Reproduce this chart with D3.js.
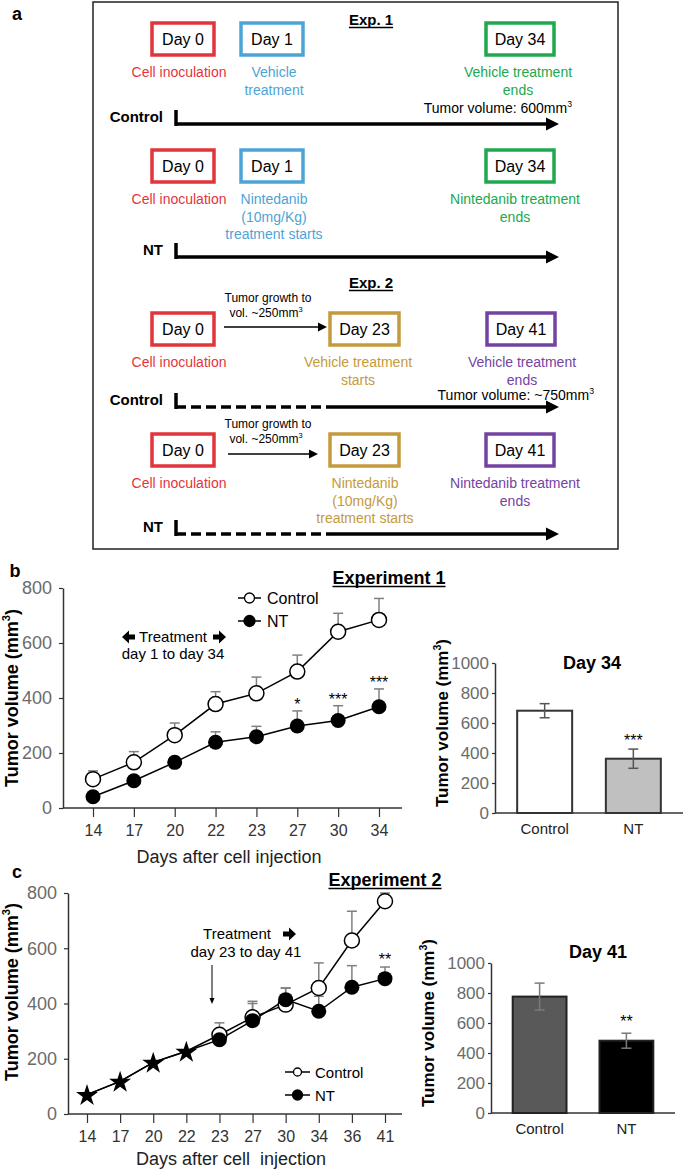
<!DOCTYPE html>
<html><head><meta charset="utf-8">
<script src="https://cdn.jsdelivr.net/npm/d3@7"></script>
<style>body{margin:0;background:#fff} svg{display:block} text{font-family:"Liberation Sans",Arial,sans-serif}</style>
</head><body><script>
// ---------- DATA ----------
const daysB = ["14","17","20","22","23","27","30","34"];
const controlB = [105,166,265,378,417,496,641,684];
const controlErrB = [30,39,44,45,59,60,67,78];
const ntB = [41,99,166,239,259,298,318,368];
const ntErrB = [8,10,18,38,38,55,54,65];
const sigB = ["","","","","","*","***","***"];

const daysC = ["14","17","20","22","23","27","30","34","36","41"];
const pretreatC = [70,118,187,227];
const controlC = [287,350,396,456,628,770];
const controlErrC = [43,58,60,91,106,30];
const ntC = [269,338,414,372,459,490];
const ntErrC = [8,62,42,54,78,42];
const sigC = ["","","","","","**"];

const barGroups = ["Control","NT"];
const barB = [682,362];
const barErrB = [47,64];
const barSigB = ["","***"];
const barC = [776,482];
const barErrC = [90,50];
const barSigC = ["","**"];
const yTicksLine = [0,200,400,600,800];
const yTicksBar = [0,200,400,600,800,1000];

// Panel a content
const aColors = {red:"#e2353b", blue:"#4ca4d6", green:"#20a84f", gold:"#c49a3c", purple:"#7443a2"};
const aRows = [
  {top:23, boxes:[
    {day:"Day 0", c:"red", x:152, w:62, lines:["Cell inoculation"], lx:179},
    {day:"Day 1", c:"blue", x:241, w:62, lines:["Vehicle","treatment"], lx:274},
    {day:"Day 34", c:"green", x:486, w:68, lines:["Vehicle treatment","ends"], lx:518}]},
  {top:150, boxes:[
    {day:"Day 0", c:"red", x:152, w:62, lines:["Cell inoculation"], lx:179},
    {day:"Day 1", c:"blue", x:241, w:62, lines:["Nintedanib","(10mg/Kg)","treatment starts"], lx:274},
    {day:"Day 34", c:"green", x:486, w:68, lines:["Nintedanib treatment","ends"], lx:515}]},
  {top:313, boxes:[
    {day:"Day 0", c:"red", x:152, w:62, lines:["Cell inoculation"], lx:179},
    {day:"Day 23", c:"gold", x:330, w:69, lines:["Vehicle treatment","starts"], lx:358},
    {day:"Day 41", c:"purple", x:487, w:68, lines:["Vehicle treatment","ends"], lx:522}]},
  {top:434, boxes:[
    {day:"Day 0", c:"red", x:152, w:62, lines:["Cell inoculation"], lx:179},
    {day:"Day 23", c:"gold", x:330, w:69, lines:["Nintedanib","(10mg/Kg)","treatment starts"], lx:365},
    {day:"Day 41", c:"purple", x:486, w:68, lines:["Nintedanib treatment","ends"], lx:515}]}
];
const aTimelines = [
  {y:124, name:"Control", dashTo:null},
  {y:257, name:"NT", dashTo:null},
  {y:407, name:"Control", dashTo:336},
  {y:534, name:"NT", dashTo:336}
];

const svg = d3.select("body").append("svg").attr("width",685).attr("height",1169);

function txt(x,y,s,opt={}){
  const t = svg.append("text").attr("x",x).attr("y",y).text(s)
    .attr("font-size",opt.size||14).attr("fill",opt.fill||"#000")
    .attr("text-anchor",opt.anchor||"middle");
  if(opt.bold) t.attr("font-weight","bold");
  return t;
}
function supText(x,y,pre,sup,post,opt={}){
  const t = svg.append("text").attr("x",x).attr("y",y)
    .attr("font-size",opt.size||14).attr("fill",opt.fill||"#000")
    .attr("text-anchor",opt.anchor||"middle");
  if(opt.bold) t.attr("font-weight","bold");
  if(opt.transform) t.attr("transform",opt.transform);
  t.append("tspan").text(pre);
  t.append("tspan").text(sup).attr("font-size",(opt.size||14)*0.62).attr("dy",-(opt.size||14)*0.42);
  if(post) t.append("tspan").text(post).attr("dy",(opt.size||14)*0.42);
  return t;
}
function underlined(x,y,s,size){
  const t = txt(x,y,s,{size:size,bold:true});
  const bb = t.node().getBBox();
  svg.append("line").attr("x1",bb.x).attr("x2",bb.x+bb.width).attr("y1",y+2.5).attr("y2",y+2.5)
    .attr("stroke","#000").attr("stroke-width",1.5);
}
function thinArrow(x1,x2,y){
  svg.append("line").attr("x1",x1).attr("x2",x2-6).attr("y1",y).attr("y2",y).attr("stroke","#000").attr("stroke-width",1.3);
  svg.append("path").attr("d",`M${x2-9},${y-4.5}L${x2},${y}L${x2-9},${y+4.5}Z`).attr("fill","#000");
}
function blockArrow(cx,cy,dir){
  const p = [[-6,-2.5],[0,-2.5],[0,-6.5],[7,0],[0,6.5],[0,2.5],[-6,2.5]];
  svg.append("path").attr("d","M"+p.map(q=>[cx+dir*q[0],cy+q[1]].join(",")).join("L")+"Z").attr("fill","#000");
}

// ---------- PANEL A ----------
txt(17,20,"a",{size:18,bold:true});
svg.append("rect").attr("x",93).attr("y",2).attr("width",525).attr("height",547)
  .attr("fill","none").attr("stroke","#222").attr("stroke-width",1.5);
underlined(371,25,"Exp. 1",15);
underlined(371,288,"Exp. 2",15);

aRows.forEach(r=>{
  r.boxes.forEach(b=>{
    svg.append("rect").attr("x",b.x).attr("y",r.top).attr("width",b.w).attr("height",32)
      .attr("fill","#fff").attr("stroke",aColors[b.c]).attr("stroke-width",3.5);
    txt(b.x+b.w/2, r.top+22, b.day, {size:16});
    b.lines.forEach((l,i)=>txt(b.lx, r.top+54+i*17.5, l, {size:14, fill:aColors[b.c]}));
  });
});
aTimelines.forEach(t=>{
  txt(163,t.y-2,t.name,{size:15,bold:true,anchor:"end"});
  svg.append("line").attr("x1",176).attr("x2",176).attr("y1",t.y-14).attr("y2",t.y+2).attr("stroke","#000").attr("stroke-width",3.5);
  const x0 = t.dashTo ? t.dashTo : 176;
  if(t.dashTo){
    svg.append("line").attr("x1",176).attr("x2",t.dashTo).attr("y1",t.y).attr("y2",t.y)
      .attr("stroke","#000").attr("stroke-width",3.5).attr("stroke-dasharray","10,5");
  }
  svg.append("line").attr("x1",x0).attr("x2",548).attr("y1",t.y).attr("y2",t.y).attr("stroke","#000").attr("stroke-width",3.5);
  svg.append("path").attr("d",`M546,${t.y-6.5}L559,${t.y}L546,${t.y+6.5}Z`).attr("fill","#000");
});
supText(572,113,"Tumor volume: 600mm","3",null,{size:14,anchor:"end"});
supText(594,400,"Tumor volume: ~750mm","3",null,{size:14,anchor:"end"});
[[302,327,224,327],[428,454,228,318]].forEach(a=>{
  txt(268,a[0],"Tumor growth to",{size:12});
  supText(266,a[0]+15,"vol. ~250mm","3",null,{size:12});
  thinArrow(a[2],a[3],a[1]);
});

// ---------- helpers for charts ----------
function yAxis(scale,x,ticks,size,tickSize,pad){
  const g = svg.append("g").attr("transform",`translate(${x},0)`)
    .call(d3.axisLeft(scale).tickValues(ticks).tickFormat(d3.format("d")).tickSize(tickSize).tickPadding(pad).tickSizeOuter(0));
  g.select(".domain").attr("stroke","#333").attr("stroke-width",1.5);
  g.selectAll(".tick line").attr("stroke","#333").attr("stroke-width",1.2);
  g.selectAll(".tick text").attr("fill","#6b6b6b").attr("font-size",size).attr("font-family","Liberation Sans, Arial, sans-serif");
  return g;
}
function xAxis(scale,y,x0,x1,size,tickSize,pad,color){
  const g = svg.append("g").attr("transform",`translate(0,${y})`)
    .call(d3.axisBottom(scale).tickSize(tickSize).tickPadding(pad).tickSizeOuter(0));
  g.select(".domain").remove();
  g.append("line").attr("x1",x0).attr("x2",x1).attr("stroke","#333").attr("stroke-width",1.5);
  g.selectAll(".tick line").attr("stroke","#333").attr("stroke-width",1.2);
  g.selectAll(".tick text").attr("fill",color).attr("font-size",size).attr("font-family","Liberation Sans, Arial, sans-serif");
  return g;
}
function errUp(x,y,v,e,w){
  svg.append("line").attr("x1",x).attr("x2",x).attr("y1",y(v)).attr("y2",y(v+e)).attr("stroke","#808080").attr("stroke-width",1.5);
  svg.append("line").attr("x1",x-w/2).attr("x2",x+w/2).attr("y1",y(v+e)).attr("y2",y(v+e)).attr("stroke","#808080").attr("stroke-width",1.5);
}
function errBoth(x,y,v,e,w,col){
  svg.append("line").attr("x1",x).attr("x2",x).attr("y1",y(v-e)).attr("y2",y(v+e)).attr("stroke",col).attr("stroke-width",1.5);
  [v-e,v+e].forEach(q=>svg.append("line").attr("x1",x-w/2).attr("x2",x+w/2).attr("y1",y(q)).attr("y2",y(q)).attr("stroke",col).attr("stroke-width",1.5));
}

// ---------- PANEL B line ----------
txt(15,577,"b",{size:18,bold:true});
const xB = d3.scalePoint().domain(daysB).range([93,379]);
const yB = d3.scaleLinear().domain([0,800]).range([808,588]);
yAxis(yB,63,yTicksLine,18,4,7);
xAxis(xB,808,63,402,16,9,8,"#333");
supText(18,698,"Tumor volume (mm","3",")",{size:18,bold:true,transform:"rotate(-90,18,698)"});
txt(229,863,"Days after cell injection",{size:18,fill:"#222"});
underlined(389,584,"Experiment 1",18);

daysB.forEach((d,i)=>{ errUp(xB(d),yB,controlB[i],controlErrB[i],10); errUp(xB(d),yB,ntB[i],ntErrB[i],10); });
const lineB = d3.line().x(d=>xB(d[0])).y(d=>yB(d[1]));
svg.append("path").attr("d",lineB(daysB.map((d,i)=>[d,controlB[i]]))).attr("fill","none").attr("stroke","#000").attr("stroke-width",1.5);
svg.append("path").attr("d",lineB(daysB.map((d,i)=>[d,ntB[i]]))).attr("fill","none").attr("stroke","#000").attr("stroke-width",1.5);
daysB.forEach((d,i)=>{
  svg.append("circle").attr("cx",xB(d)).attr("cy",yB(controlB[i])).attr("r",7.5).attr("fill","#fff").attr("stroke","#000").attr("stroke-width",1.5);
  svg.append("circle").attr("cx",xB(d)).attr("cy",yB(ntB[i])).attr("r",7.5).attr("fill","#000");
  if(sigB[i]) txt(xB(d),yB(ntB[i]+ntErrB[i])-1,sigB[i],{size:16});
});
[["Control",598,false],["NT",621,true]].forEach(l=>{
  svg.append("line").attr("x1",238).attr("x2",261).attr("y1",l[1]).attr("y2",l[1]).attr("stroke","#000").attr("stroke-width",1.5);
  svg.append("circle").attr("cx",249.5).attr("cy",l[1]).attr("r",l[2]?5.5:5).attr("fill",l[2]?"#000":"#fff").attr("stroke","#000").attr("stroke-width",1.3);
  txt(267,l[1]+6,l[0],{size:16,anchor:"start"});
});
blockArrow(129,637,-1); blockArrow(219,637,1);
txt(173,642,"Treatment",{size:15});
txt(173,659,"day 1 to day 34",{size:15});

// ---------- PANEL B bar ----------
const xBarB = d3.scaleBand().domain(barGroups).range([495,683]).paddingInner(0.38).paddingOuter(0.25);
const yBarB = d3.scaleLinear().domain([0,1000]).range([813,663]);
yAxis(yBarB,495,yTicksBar,17,3,3);
xAxis(xBarB,813,495,683,15,0,10,"#222");
barGroups.forEach((g,i)=>{
  svg.append("rect").attr("x",xBarB(g)).attr("y",yBarB(barB[i])).attr("width",xBarB.bandwidth()).attr("height",yBarB(0)-yBarB(barB[i]))
    .attr("fill",i?"#c0c0c0":"#fff").attr("stroke","#333").attr("stroke-width",2);
  errBoth(xBarB(g)+xBarB.bandwidth()/2,yBarB,barB[i],barErrB[i],10,"#555");
  if(barSigB[i]) txt(xBarB(g)+xBarB.bandwidth()/2,yBarB(barB[i]+barErrB[i])-3,barSigB[i],{size:16});
});
supText(448,723,"Tumor volume (mm","3",")",{size:17,bold:true,transform:"rotate(-90,448,723)"});
txt(592,669,"Day 34",{size:18,bold:true});

// ---------- PANEL C line ----------
txt(17,878,"c",{size:18,bold:true});
const xC = d3.scalePoint().domain(daysC).range([87,385]);
const yC = d3.scaleLinear().domain([0,800]).range([1114,893]);
yAxis(yC,68,yTicksLine,18,4,7);
xAxis(xC,1114,68,402,16,9,8,"#333");
supText(18,992,"Tumor volume (mm","3",")",{size:18,bold:true,transform:"rotate(-90,18,992)"});
txt(231,1165,"Days after cell  injection",{size:18,fill:"#222"}).style("white-space","pre");
underlined(385,886,"Experiment 2",18);

const preDays = daysC.slice(0,4), postDays = daysC.slice(4);
postDays.forEach((d,i)=>{ errUp(xC(d),yC,controlC[i],controlErrC[i],10); errUp(xC(d),yC,ntC[i],ntErrC[i],10); });
const lineC = d3.line().x(d=>xC(d[0])).y(d=>yC(d[1]));
const preSeries = preDays.map((d,i)=>[d,pretreatC[i]]);
svg.append("path").attr("d",lineC(preSeries.concat(postDays.map((d,i)=>[d,controlC[i]])))).attr("fill","none").attr("stroke","#000").attr("stroke-width",1.5);
svg.append("path").attr("d",lineC(preSeries.concat(postDays.map((d,i)=>[d,ntC[i]])))).attr("fill","none").attr("stroke","#000").attr("stroke-width",1.5);
postDays.forEach((d,i)=>{
  svg.append("circle").attr("cx",xC(d)).attr("cy",yC(controlC[i])).attr("r",7.5).attr("fill","#fff").attr("stroke","#000").attr("stroke-width",1.5);
});
postDays.forEach((d,i)=>{
  svg.append("circle").attr("cx",xC(d)).attr("cy",yC(ntC[i])).attr("r",7.5).attr("fill","#000");
  if(sigC[i]) txt(xC(d),yC(ntC[i]+ntErrC[i])-2,sigC[i],{size:16});
});
preDays.forEach((d,i)=>{
  svg.append("path").attr("d",d3.symbol(d3.symbolStar).size(150)()).attr("transform",`translate(${xC(d)},${yC(pretreatC[i])+1})`).attr("fill","#000");
});
[["Control",1072,false],["NT",1095,true]].forEach(l=>{
  svg.append("line").attr("x1",285).attr("x2",310).attr("y1",l[1]).attr("y2",l[1]).attr("stroke","#000").attr("stroke-width",1.5);
  svg.append("circle").attr("cx",297.5).attr("cy",l[1]).attr("r",l[2]?5:4).attr("fill",l[2]?"#000":"#fff").attr("stroke","#000").attr("stroke-width",1.3);
  txt(315,l[1]+5.5,l[0],{size:15,anchor:"start"});
});
txt(237,939,"Treatment",{size:15});
blockArrow(289,934,1);
txt(246,957,"day 23 to day 41",{size:15});
svg.append("line").attr("x1",212).attr("x2",212).attr("y1",965).attr("y2",999).attr("stroke","#000").attr("stroke-width",1);
svg.append("path").attr("d","M209.5,998L212,1004L214.5,998Z").attr("fill","#000");

// ---------- PANEL C bar ----------
const xBarC = d3.scaleBand().domain(barGroups).range([491,675]).paddingInner(0.38).paddingOuter(0.25);
const yBarC = d3.scaleLinear().domain([0,1000]).range([1113,963]);
yAxis(yBarC,491,yTicksBar,17,3,3);
xAxis(xBarC,1113,491,675,15,0,10,"#222");
barGroups.forEach((g,i)=>{
  svg.append("rect").attr("x",xBarC(g)).attr("y",yBarC(barC[i])).attr("width",xBarC.bandwidth()).attr("height",yBarC(0)-yBarC(barC[i]))
    .attr("fill",i?"#000":"#595959").attr("stroke","#222").attr("stroke-width",2);
  errBoth(xBarC(g)+xBarC.bandwidth()/2,yBarC,barC[i],barErrC[i],10,"#7a7a7a");
  if(barSigC[i]) txt(xBarC(g)+xBarC.bandwidth()/2,yBarC(barC[i]+barErrC[i])-6,barSigC[i],{size:16});
});
supText(434,1023,"Tumor volume (mm","3",")",{size:17,bold:true,transform:"rotate(-90,434,1023)"});
txt(598,958,"Day 41",{size:18,bold:true});
</script></body></html>
